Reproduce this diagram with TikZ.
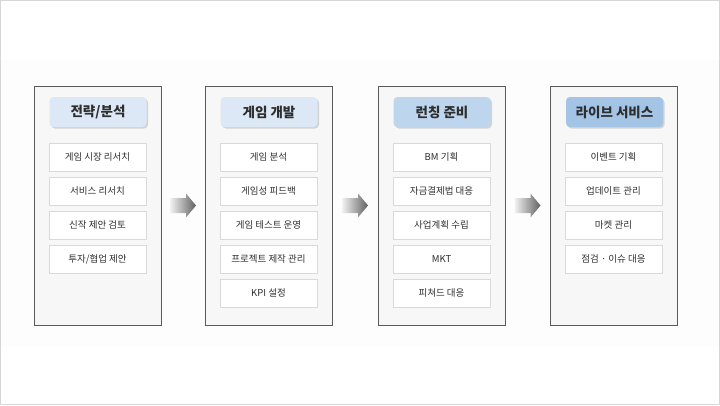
\documentclass[tikz,border=0pt]{standalone}
\usepackage{fontspec}
\setmainfont{Noto Sans CJK KR}
\usetikzlibrary{calc,shadows}

\definecolor{framegray}{HTML}{5A5A5A}
\definecolor{panelfill}{HTML}{F7F7F7}
\definecolor{itemline}{HTML}{D9D9D9}
\definecolor{textgray}{HTML}{2E2E2E}
\definecolor{titlelight}{HTML}{DCE8F5}
\definecolor{titlemid}{HTML}{BDD6EE}
\definecolor{titledark}{HTML}{A4C4E6}

\tikzset{
  panel/.style={draw=framegray, line width=0.9pt, fill=panelfill, minimum width=127pt, minimum height=239pt,
    drop shadow={shadow xshift=0.9pt, shadow yshift=-0.9pt, opacity=0.3}},
  titlebox/.style={rounded corners=4pt, minimum width=97pt, minimum height=30pt, inner sep=0pt,
    font=\fontsize{13.5}{15}\selectfont\bfseries, text=textgray,
    drop shadow={shadow xshift=1.5pt, shadow yshift=-1.5pt, opacity=0.3}},
  itembox/.style={draw=itemline, line width=0.6pt, fill=white, minimum width=97pt, minimum height=28pt,
    inner sep=0pt, font=\fontsize{9.5}{11}\selectfont, text=textgray}
}

\begin{document}
\begin{tikzpicture}[x=1pt,y=-1pt]

\draw [draw=black!16, fill=white] (0.5,0.5) rectangle (719.5,404.5);
\fill [black!0.8] (1,60) rectangle (719,347);
\useasboundingbox (0,0) rectangle (720,405);

    \node[panel] (p1) at (97.5,205.5) {};
    \node[panel] (p2) at (268.5,205.5) {};
    \node[panel] (p3) at (441.5,205.5) {};
    \node[panel] (p4) at (613.5,205.5) {};

    \node[titlebox, fill=titlelight] (t1) at (98,112) {전략/분석};
    \node[titlebox, fill=titlelight] (t2) at (269,112) {게임 개발};
    \node[titlebox, fill=titlemid] (t3) at (442,112) {런칭 준비};
    \node[titlebox, fill=titledark] (t4) at (614.5,112) {라이브 서비스};

    \node[itembox] (i11) at (97.5,157) {게임 시장 리서치};
    \node[itembox] (i12) at (97.5,191) {서비스 리서치};
    \node[itembox] (i13) at (97.5,225) {신작 제안 검토};
    \node[itembox] (i14) at (97.5,259) {투자/협업 제안};

    \node[itembox] (i21) at (268.5,157) {게임 분석};
    \node[itembox] (i22) at (268.5,191) {게임성 피드백};
    \node[itembox] (i23) at (268.5,225) {게임 테스트 운영};
    \node[itembox] (i24) at (268.5,259) {프로젝트 제작 관리};
    \node[itembox] (i25) at (268.5,293) {KPI 설정};

    \node[itembox] (i31) at (441.5,157) {BM 기획};
    \node[itembox] (i32) at (441.5,191) {자금결제법 대응};
    \node[itembox] (i33) at (441.5,225) {사업계획 수립};
    \node[itembox] (i34) at (441.5,259) {MKT};
    \node[itembox] (i35) at (441.5,293) {피쳐드 대응};

    \node[itembox] (i41) at (613.5,157) {이벤트 기획};
    \node[itembox] (i42) at (613.5,191) {업데이트 관리};
    \node[itembox] (i43) at (613.5,225) {마켓 관리};
    \node[itembox] (i44) at (613.5,259) {점검 · 이슈 대응};

% block arrows between the panels
\coordinate (a1) at ($(p1.east)!0.5!(p2.west)$);
\coordinate (a2) at ($(p2.east)!0.5!(p3.west)$);
\coordinate (a3) at ($(p3.east)!0.5!(p4.west)$);
\shade [left color=black!5, right color=black!62] ($(a1)+(-13,-7.5)$) -- ($(a1)+(3,-7.5)$) -- ($(a1)+(3,-12)$) -- ($(a1)+(13,0)$) -- ($(a1)+(3,12)$) -- ($(a1)+(3,7.5)$) -- ($(a1)+(-13,7.5)$) -- cycle;
\shade [left color=black!5, right color=black!62] ($(a2)+(-13,-7.5)$) -- ($(a2)+(3,-7.5)$) -- ($(a2)+(3,-12)$) -- ($(a2)+(13,0)$) -- ($(a2)+(3,12)$) -- ($(a2)+(3,7.5)$) -- ($(a2)+(-13,7.5)$) -- cycle;
\shade [left color=black!5, right color=black!62] ($(a3)+(-13,-7.5)$) -- ($(a3)+(3,-7.5)$) -- ($(a3)+(3,-12)$) -- ($(a3)+(13,0)$) -- ($(a3)+(3,12)$) -- ($(a3)+(3,7.5)$) -- ($(a3)+(-13,7.5)$) -- cycle;
\end{tikzpicture}
\end{document}
